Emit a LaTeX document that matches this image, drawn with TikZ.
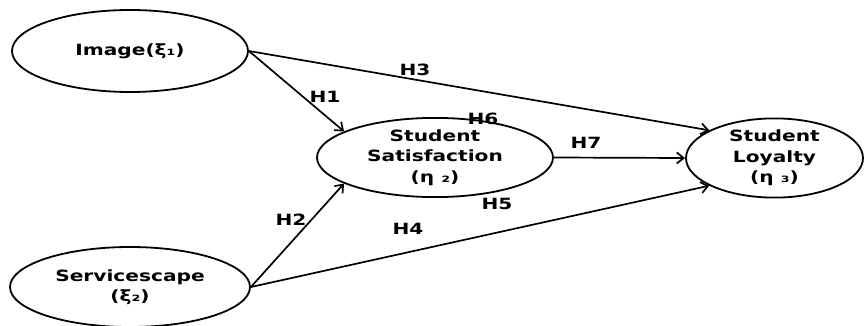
\documentclass[tikz,border=0pt]{standalone}
\usepackage{fontspec}
\setmainfont{DejaVu Sans}[FakeStretch=1.3]
\usetikzlibrary{shapes.geometric,arrows.meta}
\begin{document}
\begin{tikzpicture}[x=1pt,y=-1pt,
  lat/.style={draw,ellipse,line width=1.8pt,inner sep=0pt,align=center,
    font=\bfseries\fontsize{15.5}{20.5}\selectfont},
  hyp/.style={font=\bfseries\fontsize{15.5}{18}\selectfont,inner sep=0pt},
  path/.style={line width=1.7pt,-{Straight Barb[length=7pt,width=11pt,line width=1.7pt]}}]
\useasboundingbox (0,0) rectangle (865,326);
\node[lat,minimum width=236pt,minimum height=82pt] (img) at (130,51) {Image(ξ₁)};
\node[lat,minimum width=240pt,minimum height=80pt] (srv) at (130,287) {Servicescape\\(ξ₂)};
\node[lat,minimum width=236pt,minimum height=69pt] (sat) at (435,157.5) {Student\\Satisfaction\\(η ₂)};
\node[lat,minimum width=177pt,minimum height=67pt] (loy) at (774.5,158) {Student\\Loyalty\\(η ₃)};
\draw[path] (img.east) -- (sat.164);
\draw[path] (img.east) -- (loy.157);
\draw[path] (srv.east) -- (sat.196);
\draw[path] (srv.east) -- (loy.203);
\draw[path] (sat.east) -- (loy.west);
\node[hyp] (h1) at (325,97) {H1};
\node[hyp] (h2) at (291,220) {H2};
\node[hyp] (h3) at (415,70) {H3};
\node[hyp] (h4) at (408,229) {H4};
\node[hyp] (h5) at (497,204) {H5};
\node[hyp] (h6) at (483,119) {H6};
\node[hyp] (h7) at (586,143) {H7};
\end{tikzpicture}
\end{document}
